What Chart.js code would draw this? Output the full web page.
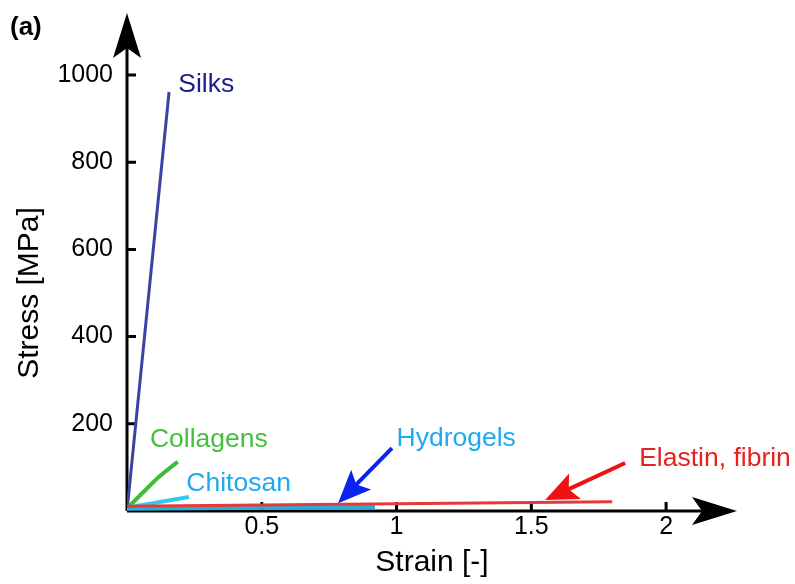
<!DOCTYPE html>
<html>
<head>
<meta charset="utf-8">
<script src="https://cdn.jsdelivr.net/npm/chart.js@4/dist/chart.umd.min.js"></script>
<style>
    html, body { margin: 0; padding: 0; background: #fff; }
</style>
</head>
<body>
<canvas id="chart" width="795" height="584"></canvas>
<script>
// Tick labels
const xTicks = [0.5, 1, 1.5, 2];
const yTicks = [200, 400, 600, 800, 1000];

// Series (strain [-], stress [MPa])
const silksStrain = [0, 0.156];
const silksStress = [0, 961];

const collagensStrain = [0.004, 0.06, 0.12, 0.188];
const collagensStress = [8, 43, 79, 113];

const chitosanStrain = [0.004, 0.23];
const chitosanStress = [8, 32];

const hydrogelsStrain = [0, 0.92];
const hydrogelsStress = [5, 9];

const elastinStrain = [0, 1.8];
const elastinStress = [11, 21];

// Text labels, anchored in data units
const labelText = ['Silks', 'Collagens', 'Chitosan', 'Hydrogels', 'Elastin, fibrin'];
const labelStrain = [0.19, 0.085, 0.22, 1.0, 1.90];
const labelStress = [977, 163, 62, 167, 119];

// Pointer arrows: [tail strain, tail stress, tip strain, tip stress]
const hydrogelsArrow = [0.983, 144, 0.783, 18];
const elastinArrow = [1.848, 110, 1.551, 25];

const FONT = "'Liberation Sans', Arial, Helvetica, sans-serif";

const colors = {
    silks: '#3d41a3',
    collagens: '#3dbd36',
    chitosan: '#33c8f0',
    hydrogels: '#2aaed8',
    elastin: '#e8393a'
};
const labelColors = ['#1f1a8c', '#44c03c', '#1fa8ee', '#1eaaf0', '#e6221f'];

function toPoints(xs, ys) {
    return xs.map((x, i) => ({ x: x, y: ys[i] }));
}

// Filled arrow head with a small notch at the back
function arrowHead(ctx, tipX, tipY, angle, len, halfW, notch) {
    ctx.save();
    ctx.translate(tipX, tipY);
    ctx.rotate(angle);
    ctx.beginPath();
    ctx.moveTo(0, 0);
    ctx.lineTo(-len, -halfW);
    ctx.lineTo(-len + notch, 0);
    ctx.lineTo(-len, halfW);
    ctx.closePath();
    ctx.fill();
    ctx.restore();
}

function pointer(chart, arr, color) {
    const ctx = chart.ctx;
    const x = chart.scales.x, y = chart.scales.y;
    const x0 = x.getPixelForValue(arr[0]), y0 = y.getPixelForValue(arr[1]);
    const x1 = x.getPixelForValue(arr[2]), y1 = y.getPixelForValue(arr[3]);
    const angle = Math.atan2(y1 - y0, x1 - x0);
    ctx.save();
    ctx.strokeStyle = color;
    ctx.fillStyle = color;
    ctx.lineWidth = 4;
    ctx.beginPath();
    ctx.moveTo(x0, y0);
    ctx.lineTo(x1 - 22 * Math.cos(angle), y1 - 22 * Math.sin(angle));
    ctx.stroke();
    arrowHead(ctx, x1, y1, angle, 33, 14, 7);
    ctx.restore();
}

const axesPlugin = {
    id: 'axesArrows',
    beforeDatasetsDraw(chart) {
        const ctx = chart.ctx;
        const area = chart.chartArea;
        const xs = chart.scales.x, ys = chart.scales.y;
        ctx.save();
        ctx.strokeStyle = '#000';
        ctx.fillStyle = '#000';
        ctx.lineWidth = 3;
        ctx.lineCap = 'butt';

        // axis lines
        ctx.beginPath();
        ctx.moveTo(area.left, area.bottom);
        ctx.lineTo(area.right - 20, area.bottom);
        ctx.moveTo(area.left, area.bottom);
        ctx.lineTo(area.left, 30);
        ctx.stroke();
        arrowHead(ctx, area.right, area.bottom, 0, 45, 14, 10);
        arrowHead(ctx, area.left, 13, -Math.PI / 2, 45, 14, 10);

        // inward tick marks
        ctx.beginPath();
        xTicks.forEach(v => {
            const px = xs.getPixelForValue(v);
            ctx.moveTo(px, area.bottom);
            ctx.lineTo(px, area.bottom - 9);
        });
        yTicks.forEach(v => {
            const py = ys.getPixelForValue(v);
            ctx.moveTo(area.left, py);
            ctx.lineTo(area.left + 9, py);
        });
        ctx.stroke();

        // panel letter
        ctx.font = 'bold 26px ' + FONT;
        ctx.textAlign = 'left';
        ctx.textBaseline = 'middle';
        ctx.fillText('(a)', 10, 28);
        ctx.restore();
    },
    afterDatasetsDraw(chart) {
        const ctx = chart.ctx;
        const xs = chart.scales.x, ys = chart.scales.y;
        pointer(chart, hydrogelsArrow, '#0a23f0');
        pointer(chart, elastinArrow, '#f01212');

        ctx.save();
        ctx.font = '26.5px ' + FONT;
        ctx.textAlign = 'left';
        ctx.textBaseline = 'middle';
        labelText.forEach((t, i) => {
            ctx.fillStyle = labelColors[i];
            ctx.fillText(t, xs.getPixelForValue(labelStrain[i]), ys.getPixelForValue(labelStress[i]));
        });
        ctx.restore();
    }
};

const ctx = document.getElementById('chart').getContext('2d');
new Chart(ctx, {
    type: 'scatter',
    data: {
        datasets: [
            { label: 'Elastin, fibrin', data: toPoints(elastinStrain, elastinStress), borderColor: colors.elastin, borderWidth: 3 },
            { label: 'Hydrogels', data: toPoints(hydrogelsStrain, hydrogelsStress), borderColor: colors.hydrogels, borderWidth: 4 },
            { label: 'Chitosan', data: toPoints(chitosanStrain, chitosanStress), borderColor: colors.chitosan, borderWidth: 4 },
            { label: 'Collagens', data: toPoints(collagensStrain, collagensStress), borderColor: colors.collagens, borderWidth: 4, tension: 0.3 },
            { label: 'Silks', data: toPoints(silksStrain, silksStress), borderColor: colors.silks, borderWidth: 3 }
        ]
    },
    options: {
        responsive: false,
        animation: false,
        showLine: true,
        elements: { point: { radius: 0, hoverRadius: 0 }, line: { fill: false } },
        layout: { padding: { top: 75, right: 58, left: 0, bottom: 0 } },
        plugins: {
            legend: { display: false },
            tooltip: { enabled: false }
        },
        scales: {
            x: {
                type: 'linear',
                min: 0,
                max: 2.263,
                grid: { display: false, drawTicks: false },
                border: { display: false },
                afterBuildTicks: s => { s.ticks = xTicks.map(v => ({ value: v })); },
                afterFit: s => { s.height = 73; },
                ticks: {
                    color: '#000',
                    font: { family: FONT, size: 25 },
                    padding: 1,
                    maxRotation: 0,
                    callback: v => String(v)
                },
                title: {
                    display: true,
                    text: 'Strain [-]',
                    color: '#000',
                    font: { family: FONT, size: 30 },
                    padding: { top: 0, bottom: 3 }
                }
            },
            y: {
                type: 'linear',
                min: 0,
                max: 1000,
                grid: { display: false, drawTicks: false },
                border: { display: false },
                afterBuildTicks: s => { s.ticks = yTicks.map(v => ({ value: v })); },
                afterFit: s => { s.width = 127; },
                ticks: {
                    color: '#000',
                    font: { family: FONT, size: 25 },
                    padding: 14,
                    callback: v => String(v)
                },
                title: {
                    display: true,
                    text: 'Stress [MPa]',
                    color: '#000',
                    font: { family: FONT, size: 30 },
                    padding: { top: 12, bottom: 0 }
                }
            }
        }
    },
    plugins: [axesPlugin]
});
</script>
</body>
</html>
